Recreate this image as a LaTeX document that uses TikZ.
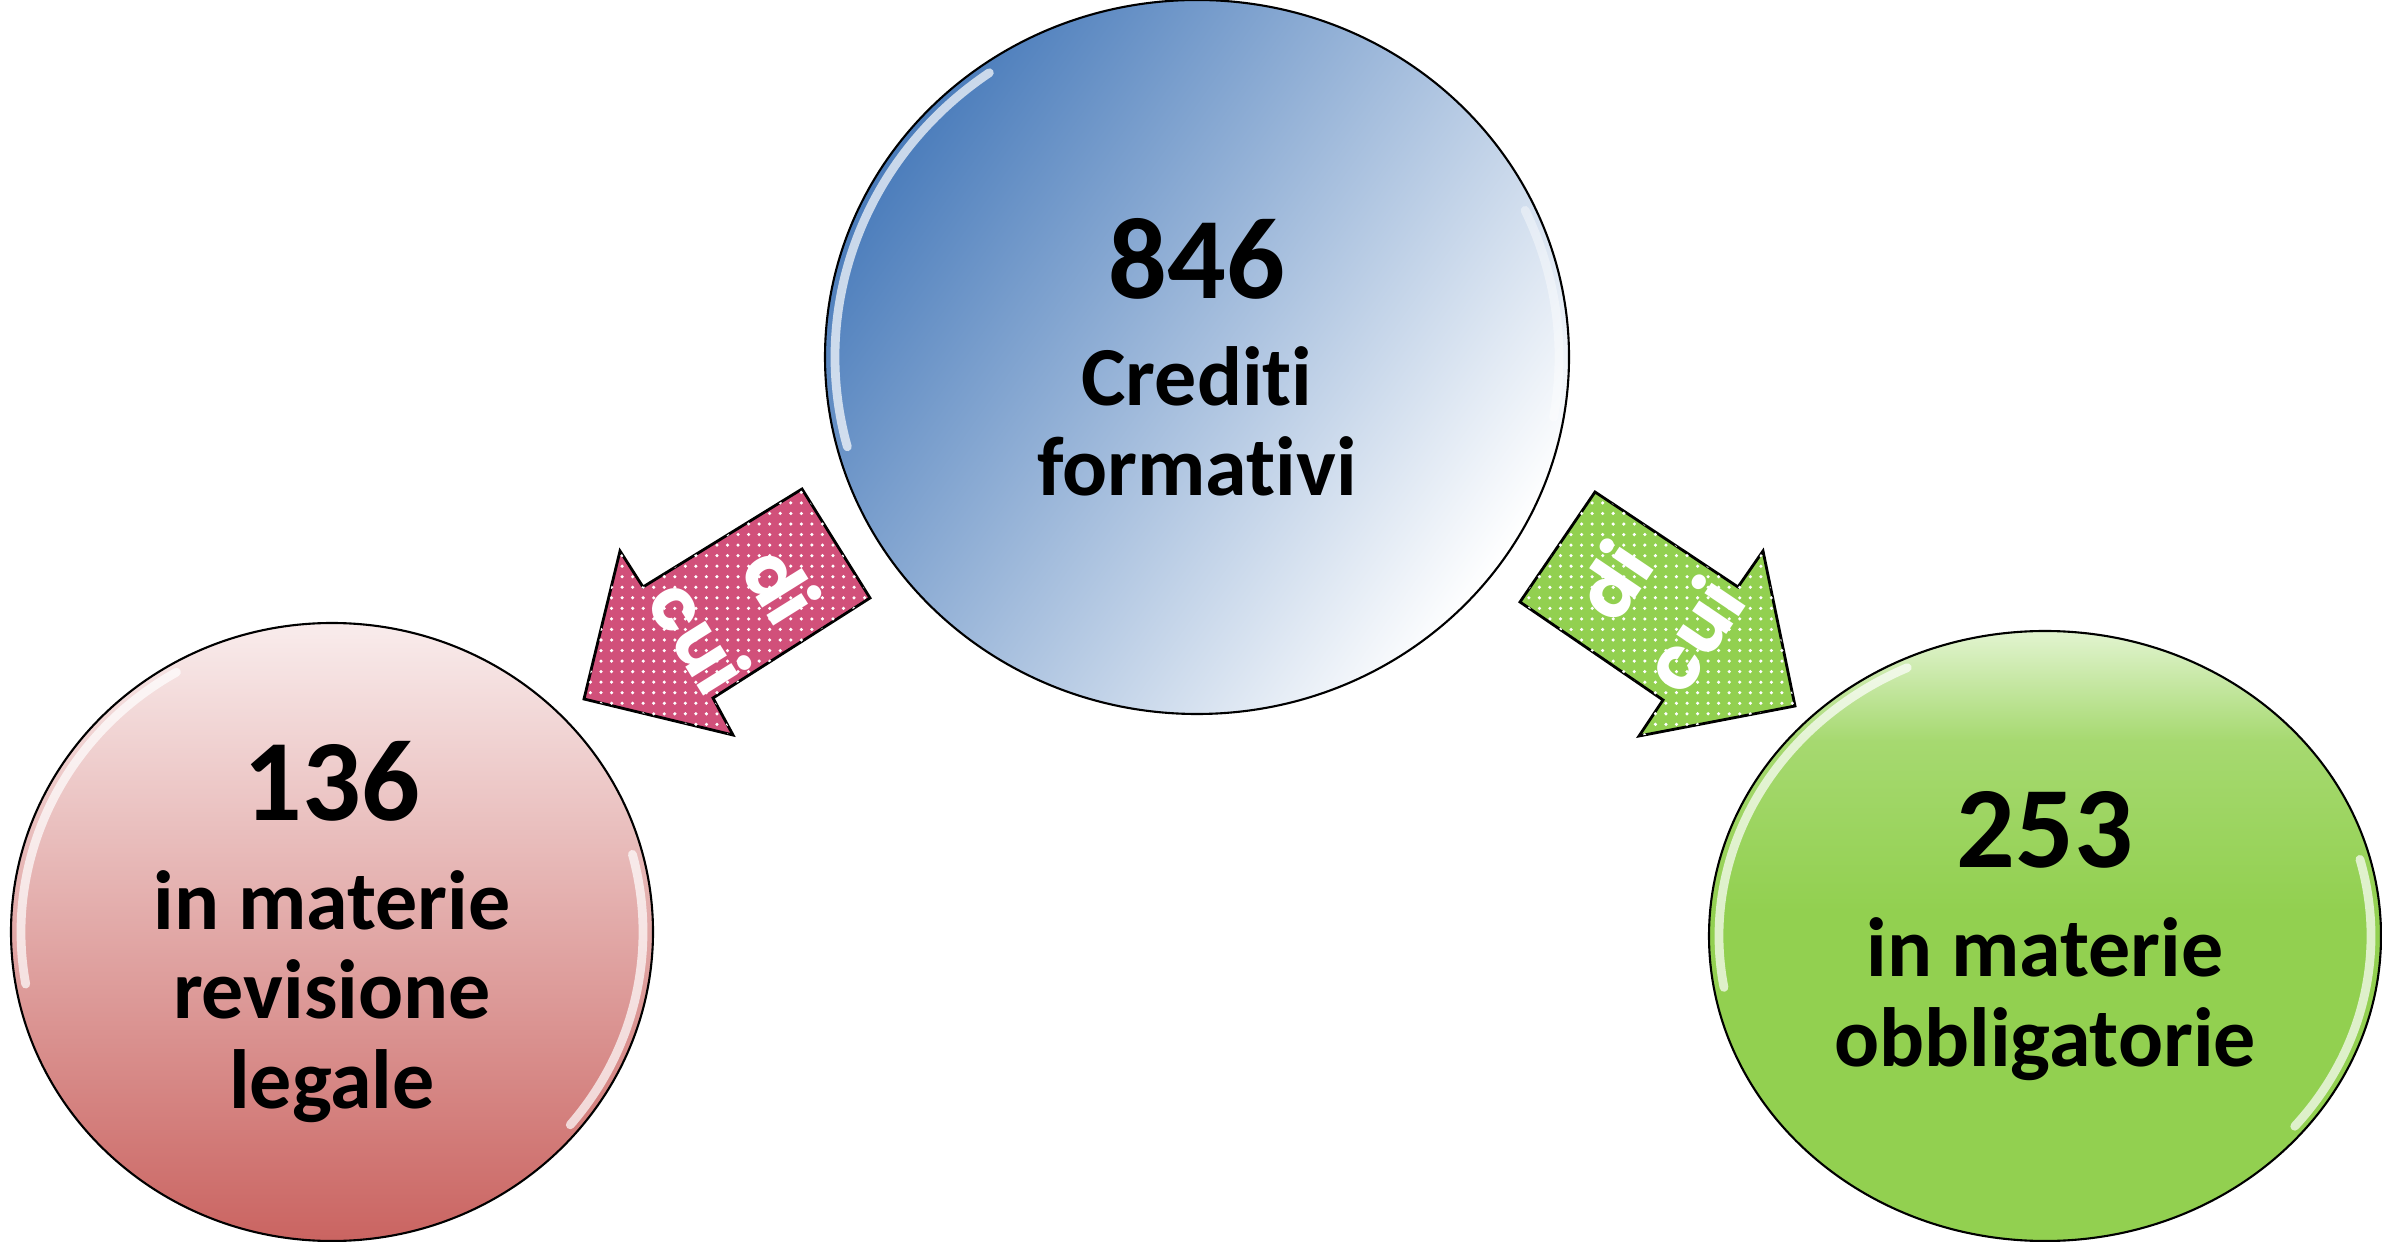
\documentclass[tikz,border=0pt]{standalone}
\usepackage{fontspec}
\setmainfont{Carlito}[Ligatures=NoCommon]
\newfontfamily\cuifont{Poppins}
\usetikzlibrary{shapes.geometric,patterns}

\definecolor{bluetop}{RGB}{74,124,187}
\definecolor{pinktop}{RGB}{249,236,236}
\definecolor{pinkbot}{RGB}{202,100,97}
\definecolor{greentop}{RGB}{226,244,208}
\definecolor{greenbot}{RGB}{146,208,80}
\definecolor{pinkarr}{RGB}{209,80,122}
\definecolor{greenarr}{RGB}{146,208,80}
% зелёный: светлый только сверху
\pgfdeclareverticalshading{greenball}{100bp}{color(0bp)=(greenbot); color(52bp)=(greenbot);
  color(66bp)=(greenbot!75!greentop); color(75bp)=(greentop); color(100bp)=(greentop)}

\tikzset{
  bubble/.style={ellipse, draw=black, line width=0.6pt, inner sep=0pt, align=center,
    font=\bfseries\fontsize{23.9}{25.5}\selectfont},
  arrowbody/.style={draw=black, line width=0.8pt, line join=miter,
    postaction={pattern=dots, pattern color=white}},
  cuitext/.style={text=white, align=center, inner sep=0pt,
    font=\cuifont\bfseries\fontsize{21}{27.5}\selectfont},
  gloss/.style={white, opacity=0.7, line width=2.5pt, line cap=round}
}
\newcommand\numtext[1]{{\fontsize{33}{36}\selectfont #1}}

\begin{document}
\begin{tikzpicture}
    \useasboundingbox (0,0) rectangle (23.82,12.41); % рамка картинки
    % Круги (эллипсы) с текстом
    \node [bubble, minimum width=7.44cm, minimum height=7.14cm,
           top color=bluetop, bottom color=white, shading angle=55]
          (tot) at (11.97,8.84) {\numtext{846}\\[5pt]Crediti\\formativi};
    \node [bubble, minimum width=6.42cm, minimum height=6.18cm,
           top color=pinktop, bottom color=pinkbot]
          (rev) at (3.32,3.09) {\numtext{136}\\[5.5pt]in materie\\revisione\\legale};
    \node [bubble, minimum width=6.72cm, minimum height=6.10cm, shading=greenball]
          (obb) at (20.45,3.05) {\numtext{253}\\[5.5pt]in materie\\obbligatorie};
    % Блики по краю
    \draw [gloss] ([shift={(125:3.62cm and 3.47cm)}]tot.center)
          arc [start angle=125, end angle=195, x radius=3.62cm, y radius=3.47cm];
    \draw [gloss, opacity=0.4] ([shift={(-10:3.62cm and 3.47cm)}]tot.center)
          arc [start angle=-10, end angle=25, x radius=3.62cm, y radius=3.47cm];
    \draw [gloss] ([shift={(120:3.11cm and 3.0cm)}]rev.center)
          arc [start angle=120, end angle=190, x radius=3.11cm, y radius=3.0cm];
    \draw [gloss] ([shift={(-40:3.11cm and 3.0cm)}]rev.center)
          arc [start angle=-40, end angle=15, x radius=3.11cm, y radius=3.0cm];
    \draw [gloss] ([shift={(115:3.26cm and 2.96cm)}]obb.center)
          arc [start angle=115, end angle=190, x radius=3.26cm, y radius=2.96cm];
    \draw [gloss] ([shift={(-40:3.26cm and 2.96cm)}]obb.center)
          arc [start angle=-40, end angle=15, x radius=3.26cm, y radius=2.96cm];
    % Стрелки "di cui" -- точки по контуру
    \coordinate (L1) at (8.02,7.52);
    \coordinate (L2) at (8.70,6.43);
    \coordinate (L3) at (7.13,5.43);
    \coordinate (L4) at (7.33,5.06);
    \coordinate (L5) at (5.84,5.42);
    \coordinate (L6) at (6.20,6.90);
    \coordinate (L7) at (6.43,6.54);
    \coordinate (R1) at (15.95,7.49);
    \coordinate (R2) at (17.38,6.54);
    \coordinate (R3) at (17.63,6.90);
    \coordinate (R4) at (17.95,5.35);
    \coordinate (R5) at (16.39,5.05);
    \coordinate (R6) at (16.63,5.41);
    \coordinate (R7) at (15.20,6.39);
    \draw [arrowbody, fill=pinkarr] (L1) \foreach \i in {2,...,7} {-- (L\i)} -- cycle;
    \draw [arrowbody, fill=greenarr] (R1) \foreach \i in {2,...,7} {-- (R\i)} -- cycle;
    \node [cuitext, rotate=-58] (cuiL) at (7.41,6.31) {di\\cui};
    \node [cuitext, rotate=56] (cuiR) at (16.52,6.34) {di\\cui};
\end{tikzpicture}
\end{document}
